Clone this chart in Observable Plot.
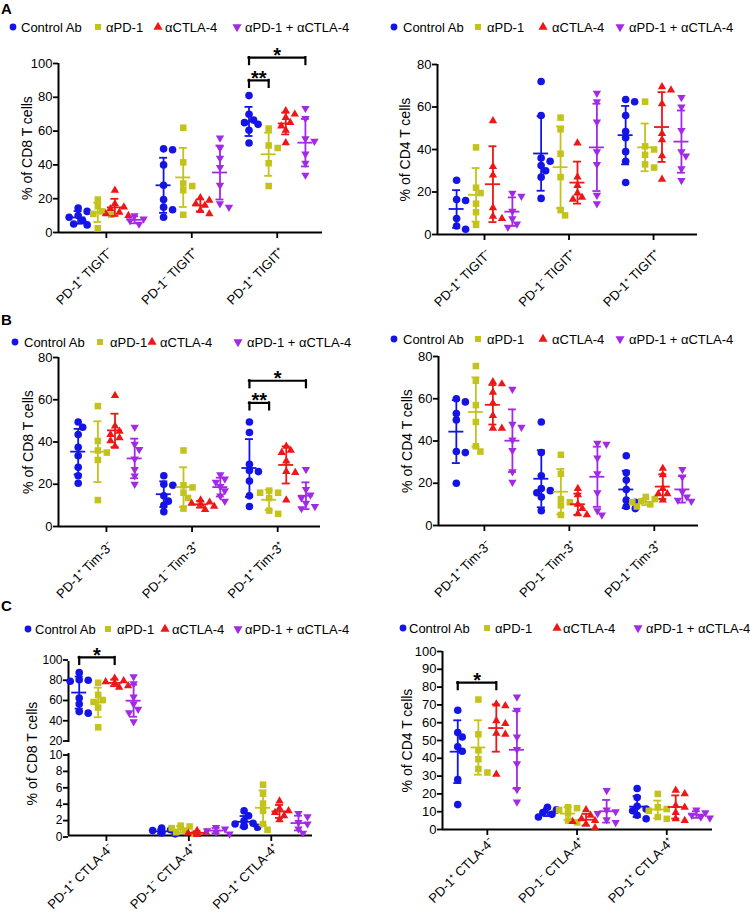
<!DOCTYPE html>
<html><head><meta charset="utf-8">
<script src="https://cdn.jsdelivr.net/npm/d3@7"></script>
<script src="https://cdn.jsdelivr.net/npm/@observablehq/plot@0.6"></script>
<style>
body{margin:0;background:#fff;}
#root{position:relative;width:750px;height:918px;overflow:hidden;font-family:"Liberation Sans",Arial,sans-serif;}
.panel{position:absolute;}
.panel svg{overflow:visible;display:block;}
#overlay{position:absolute;left:0;top:0;}
</style></head><body><div id="root"></div>
<script>
// ---------- data ----------
const treatments = ["Control Ab", "αPD-1", "αCTLA-4", "αPD-1 + αCTLA-4"];
const colors = ["#1414e6", "#c3c31b", "#ee1616", "#a22ae4"];

const groupsTIGIT = ["PD-1⁺ TIGIT⁻", "PD-1⁻ TIGIT⁺", "PD-1⁺ TIGIT⁺"];
const groupsTim3 = ["PD-1⁺ Tim-3⁻", "PD-1⁻ Tim-3⁺", "PD-1⁺ Tim-3⁺"];
const groupsCTLA4 = ["PD-1⁺ CTLA-4⁻", "PD-1⁻ CTLA-4⁺", "PD-1⁺ CTLA-4⁺"];

const ticks100 = [0, 20, 40, 60, 80, 100];
const ticks80 = [0, 20, 40, 60, 80];
const ticksBreakTop = [20, 40, 60, 80, 100];
const ticksBreakBottom = [0, 2, 4, 6, 8, 10];
const ticks100by10 = [0, 10, 20, 30, 40, 50, 60, 70, 80, 90, 100];

// [group][treatment] -> values (% of cells)
const cd8TIGIT = [
  [[14.5, 12.5, 10, 9, 7, 5, 4.5], [19.5, 15.5, 12.5, 11, 10.5, 2.5], [25, 17, 15, 14, 12, 11, 10], [10, 8, 7, 5]],
  [[49.5, 49, 40, 28, 19.5, 15, 13.5, 9], [62, 41.5, 29, 27.5, 25, 10.5], [20.5, 19, 17, 16, 13, 11], [56, 50, 44, 38.5, 28, 17, 15]],
  [[81, 70, 66.5, 65, 64, 60.5, 53], [61.5, 51.5, 50, 41, 27.5], [72, 70, 68, 65, 63, 60.5, 53], [73.5, 67.5, 55.5, 54, 46.5, 41, 34]]
];
const cd4TIGIT = [
  [[25.5, 16.5, 16, 7.5, 4, 2.5], [41, 22, 19.5, 14.5, 10.5, 4.5], [53.5, 32, 28, 12.5, 8.5, 7.5], [19.5, 18, 11, 7.5, 5, 3.5]],
  [[72, 56, 36, 34.5, 32.5, 30, 27, 17], [55, 49.5, 38, 27, 11.5, 9], [43, 27, 23, 19.5, 17.5, 16.5], [66.5, 62.5, 53, 39, 33, 18.5, 14.5]],
  [[63.5, 62.5, 56, 48.5, 45.5, 39, 34.5, 24.5], [62.5, 41.5, 40, 37.5, 33, 31.5], [69.5, 68, 61.5, 47.5, 44.5, 37, 26], [64.5, 60, 49, 39, 37, 31, 25.5]]
];
const cd8Tim3 = [
  [[49.5, 47, 43.5, 37.5, 33.5, 28, 24, 20.5], [57, 40.5, 36, 35, 31.5, 12.5], [62, 47.5, 45, 43.5, 42, 40.5, 38], [47, 39, 36.5, 32, 27, 24, 20]],
  [[24, 20, 19.5, 14.5, 12, 10, 7], [36, 19.5, 18.5, 16, 13.5, 8.5], [12.5, 11.5, 11, 10.5, 9.5, 8], [24.5, 22.5, 21, 19, 17, 14.5, 12]],
  [[49.5, 44.5, 29.5, 26.5, 26, 21.5, 14.5, 9.5], [17, 16, 16, 13.5, 7.5, 6], [38, 36, 35, 31, 26, 25.5, 12.5], [27, 17.5, 15, 13.5, 11, 9.5, 8.5]]
];
const cd4Tim3 = [
  [[60, 58.5, 53, 50, 35, 34.5, 20], [75.5, 68.5, 57, 49, 37.5, 35], [68, 67, 63, 58, 52, 46, 46], [64.5, 48, 46.5, 40.5, 35.5, 25.5, 20.5]],
  [[49, 34.5, 23.5, 17.5, 16.5, 15.5, 13.5, 7], [33.5, 24.5, 12.5, 11, 9.5, 5], [17.5, 14.5, 10, 8, 5.5, 5], [39, 38.5, 32, 24.5, 15.5, 7, 5]],
  [[33, 25, 21.5, 17, 12, 11, 9, 8], [13.5, 12.5, 11.5, 11, 10, 9], [27, 24, 17.5, 15, 15, 12], [26.5, 23, 16, 13.5, 12, 11.5]]
];
const cd8CTLA4 = [
  [[89, 82, 81.5, 80.5, 64, 58, 50.5, 49], [79, 67, 62, 60, 54.5, 35], [83.5, 81, 80, 78.5, 76, 74.5], [85, 78, 65, 58, 53, 49.5, 40.5]],
  [[0.9, 0.7, 0.6, 0.5, 0.4, 0.3, 0.2], [1.2, 1.1, 0.9, 0.6, 0.4, 0.2], [0.6, 0.4, 0.3, 0.2, 0.1], [1.0, 0.8, 0.6, 0.4, 0.2]],
  [[3.0, 2.4, 1.8, 1.5, 1.4, 1.2, 1.1, 1.0], [6.2, 5.1, 3.9, 3.0, 1.4, 0.7], [4.2, 3.3, 3.0, 2.8, 2.4, 1.9], [2.7, 2.3, 1.6, 1.4, 0.8, 0.3]]
];
const cd4CTLA4 = [
  [[67, 54.5, 52, 46.5, 44, 28, 14], [73, 53.5, 44.5, 39.5, 34, 32], [70.5, 69.5, 61, 59.5, 54, 53.5, 31], [74.5, 67, 52, 45, 37, 22.5, 15.5]],
  [[12.5, 11, 9.5, 8.5, 7], [12.5, 12, 11, 9, 5, 4], [11, 8, 6, 5, 4.5, 3, 1], [22, 11, 10, 9, 5.5, 4]],
  [[23, 18, 13, 11.5, 10.5, 8, 6], [20, 12.5, 11.5, 10.5, 7, 6], [22, 20, 13.5, 12.5, 9.5, 6, 5], [11, 9.5, 8, 7, 6.5]]
];

// significance brackets: group, from/to treatment index, bracket height (value), label
const cd8TIGITSig = [{group: 2, from: 0, to: 1, y: 90, label: "**"}, {group: 2, from: 0, to: 3, y: 103.5, label: "*"}];
const cd8Tim3Sig = [{group: 2, from: 0, to: 1, y: 58.5, label: "**"}, {group: 2, from: 0, to: 3, y: 69, label: "*"}];
const cd8CTLA4Sig = [{group: 0, from: 0, to: 2, y: 104, label: "*"}];
const cd4CTLA4Sig = [{group: 0, from: 0, to: 2, y: 82.5, label: "*"}];

// ---------- rendering ----------
const FONT = '"Liberation Sans", Arial, Helvetica, sans-serif';
const offsets = [-0.33, -0.1, 0.1, 0.33];
const sqrt3 = Math.sqrt(3);
const triangleDown = {draw(ctx, size) {
  const y = -Math.sqrt(size / (sqrt3 * 3));
  ctx.moveTo(0, -y * 2); ctx.lineTo(-sqrt3 * y, y); ctx.lineTo(sqrt3 * y, y); ctx.closePath();
}};
const symbols = ["circle", "square", "triangle", triangleDown];
const d3symbols = [d3.symbolCircle, d3.symbolSquare, d3.symbolTriangle, triangleDown];
const radii = [3.8, 3.7, 3.1, 3.1];

const root = document.getElementById("root");

function makePanel(cfg) {
  const {left, top, width, height, mL, mR, mT, mB, xDomain, yDomain, yTicks, groups, data,
         sig = [], keep = [0, 1, 2], showX = true, ylabel = null, labelDx = -31, labelAnchor = "left",
         tickFont = 13, tickDy = 0, xLabelDy = 14} = cfg;
  const kX = (width - mL - mR) / (xDomain[1] - xDomain[0]);
  const kY = (height - mT - mB) / (yDomain[1] - yDomain[0]);
  const pts = [], stats = [];
  keep.forEach(gi => data[gi].forEach((vals, ti) => {
    const cx = gi + offsets[ti];
    const placed = [];
    [...vals].sort((a, b) => b - a).forEach(v => {
      const py = v * kY;
      let ox = 0;
      for (const c of [0, 1, -1, 2, -2, 3, -3]) {
        const o = c * 4.5;
        if (placed.every(p => Math.hypot(p.o - o, p.py - py) >= 6)) { ox = o; break; }
      }
      placed.push({o: ox, py});
      pts.push({t: ti, v, x: cx + ox / kX});
    });
    const m = d3.mean(vals), s = d3.deviation(vals);
    stats.push({t: ti, x: cx, mean: m, lo: Math.max(yDomain[0], m - s), hi: m + s});
  }));

  const marks = [];
  marks.push(Plot.ruleX([xDomain[0]], {stroke: "#000", strokeWidth: 2}));
  if (showX) marks.push(Plot.ruleY([yDomain[0]], {stroke: "#000", strokeWidth: 2}));
  marks.push(Plot.axisY({ticks: yTicks, tickSize: 5, tickPadding: 1, strokeWidth: 1.8, fontSize: tickFont, tickFormat: d => String(d), label: null, dy: tickDy}));
  if (showX) {
    marks.push(Plot.axisX({ticks: [0, 1, 2], tickSize: 6, strokeWidth: 1.8, tickFormat: () => "", label: null}));
    marks.push(Plot.text([0, 1, 2], {x: d => d, frameAnchor: "bottom", text: i => groups[i], rotate: -45,
      textAnchor: "end", lineAnchor: "top", dy: xLabelDy, dx: 1, fontSize: 13}));
  }
  treatments.forEach((_, ti) => {
    marks.push(Plot.dot(pts.filter(p => p.t === ti), {x: "x", y: "v", symbol: symbols[ti], r: radii[ti], fill: colors[ti], stroke: "none"}));
  });
  treatments.forEach((_, ti) => {
    const st = stats.filter(s => s.t === ti);
    const sty = {stroke: colors[ti], strokeWidth: 1.8};
    marks.push(Plot.ruleX(st, {x: "x", y1: "lo", y2: "hi", ...sty}));
    marks.push(Plot.ruleY(st, {y: "hi", x1: d => d.x - 4 / kX, x2: d => d.x + 4 / kX, ...sty}));
    marks.push(Plot.ruleY(st, {y: "lo", x1: d => d.x - 4 / kX, x2: d => d.x + 4 / kX, ...sty}));
    marks.push(Plot.ruleY(st, {y: "mean", x1: d => d.x - 7.5 / kX, x2: d => d.x + 7.5 / kX, ...sty}));
  });
  const br = sig.map(s => ({x1: s.group + offsets[s.from], x2: s.group + offsets[s.to], y: s.y, y2: s.y - 7 / kY, label: s.label}));
  if (br.length) {
    const bs = {stroke: "#000", strokeWidth: 2.2, strokeLinecap: "square"};
    marks.push(Plot.ruleY(br, {x1: "x1", x2: "x2", y: "y", ...bs}));
    marks.push(Plot.ruleX(br, {x: "x1", y1: "y", y2: "y2", ...bs}));
    marks.push(Plot.ruleX(br, {x: "x2", y1: "y", y2: "y2", ...bs}));
    marks.push(Plot.text(br, {x: d => (d.x1 + d.x2) / 2, y: "y", text: "label", fontSize: 20, fontWeight: "bold", dy: -2}));
  }
  if (ylabel) marks.push(Plot.text([ylabel], {frameAnchor: labelAnchor, text: d => d, rotate: -90, dx: labelDx, fontSize: 14, textAnchor: "middle", lineAnchor: "middle"}));

  const svg = Plot.plot({
    width, height, marginLeft: mL, marginRight: mR, marginTop: mT, marginBottom: mB,
    x: {type: "linear", domain: xDomain, axis: null},
    y: {type: "linear", domain: yDomain, axis: null},
    style: {fontFamily: FONT, fontSize: "13px", background: "transparent", overflow: "visible", color: "#000"},
    marks
  });
  const div = document.createElement("div");
  div.className = "panel";
  div.style.left = left + "px"; div.style.top = top + "px";
  div.appendChild(svg);
  root.appendChild(div);
}

// A
makePanel({left: 0, top: 40, width: 375, height: 270, mL: 58, mR: 53, mT: 23, mB: 78, xDomain: [-0.56, 2.53], yDomain: [0, 100], yTicks: ticks100, groups: groupsTIGIT, data: cd8TIGIT, sig: cd8TIGITSig, ylabel: "% of CD8 T cells", labelDx: -31});
makePanel({left: 375, top: 40, width: 375, height: 270, mL: 62, mR: 53, mT: 24, mB: 76, xDomain: [-0.556, 2.52], yDomain: [0, 80], yTicks: ticks80, groups: groupsTIGIT, data: cd4TIGIT, ylabel: "% of CD4 T cells", labelDx: -32});
// B
makePanel({left: 0, top: 350, width: 375, height: 240, mL: 58, mR: 55, mT: 7, mB: 64, xDomain: [-0.56, 2.5], yDomain: [0, 80], yTicks: ticks80, groups: groupsTim3, data: cd8Tim3, sig: cd8Tim3Sig, ylabel: "% of CD8 T cells", labelDx: -30});
makePanel({left: 375, top: 350, width: 375, height: 240, mL: 63, mR: 52, mT: 6, mB: 65, xDomain: [-0.54, 2.52], yDomain: [0, 80], yTicks: ticks80, groups: groupsTim3, data: cd4Tim3, ylabel: "% of CD4 T cells", labelDx: -31});
// C (left panel has a broken y axis: two stacked segments)
makePanel({left: 0, top: 640, width: 375, height: 108, mL: 68, mR: 63, mT: 21, mB: 6, xDomain: [-0.46, 2.5], yDomain: [20, 100], yTicks: ticksBreakTop, groups: groupsCTLA4, data: cd8CTLA4, sig: cd8CTLA4Sig, keep: [0], showX: false, tickFont: 12, tickDy: -1.5});
makePanel({left: 0, top: 746, width: 375, height: 172, mL: 68, mR: 63, mT: 7, mB: 83, xDomain: [-0.46, 2.5], yDomain: [0, 10], yTicks: ticksBreakBottom, groups: groupsCTLA4, data: cd8CTLA4, keep: [1, 2], ylabel: "% of CD8 T cells", labelDx: -36, labelAnchor: "top-left", tickFont: 12, tickDy: 1.5, xLabelDy: 7});
makePanel({left: 375, top: 640, width: 375, height: 278, mL: 67, mR: 38, mT: 11, mB: 89, xDomain: [-0.5, 2.51], yDomain: [0, 100], yTicks: ticks100by10, groups: groupsCTLA4, data: cd4CTLA4, sig: cd4CTLA4Sig, ylabel: "% of CD4 T cells", labelDx: -35, xLabelDy: 7});

// overlay: panel letters and legends
const legends = [
  {y: 27, sx: [13, 98, 158, 237], tx: [21, 106, 165, 245]},
  {y: 27, sx: [394, 478, 543, 620], tx: [403, 487, 552, 629]},
  {y: 342, sx: [15, 100, 152, 238], tx: [24, 110, 160, 247]},
  {y: 339, sx: [394, 478, 543, 620], tx: [403, 487, 552, 629]},
  {y: 629, sx: [28, 108, 165, 238], tx: [35, 117, 172, 245]},
  {y: 628, sx: [403, 487, 557, 638], tx: [409, 495, 563, 646]}
];
const letters = [{t: "A", y: 14}, {t: "B", y: 325}, {t: "C", y: 611}];
const ov = d3.select(root).append("svg").attr("id", "overlay").attr("width", 750).attr("height", 918)
  .style("font-family", FONT);
letters.forEach(l => ov.append("text").attr("x", 1).attr("y", l.y).attr("font-size", 15).attr("font-weight", "bold").text(l.t));
legends.forEach(lg => {
  treatments.forEach((name, i) => {
    ov.append("path").attr("d", d3.symbol(d3symbols[i], 36)()).attr("fill", colors[i])
      .attr("transform", `translate(${lg.sx[i]},${lg.y})`);
    ov.append("text").attr("x", lg.tx[i]).attr("y", lg.y).attr("dy", "0.35em").attr("font-size", 13).text(name);
  });
});
</script></body></html>
